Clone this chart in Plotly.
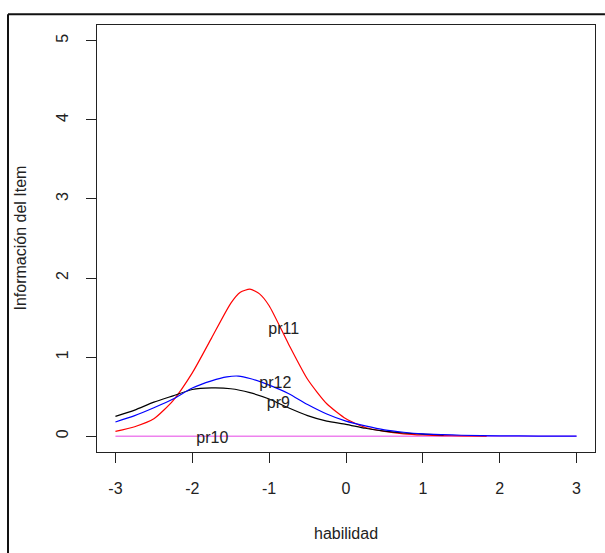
import plotly.graph_objects as go

# pr9 (black)
x_pr9 = [-3, -2.75, -2.5, -2.25, -2.0, -1.75, -1.5, -1.25, -1.0, -0.75, -0.5, -0.25, 0, 0.25, 0.5, 0.75, 1.0, 1.27]
y_pr9 = [0.25, 0.33, 0.43, 0.51, 0.59, 0.61, 0.60, 0.55, 0.47, 0.36, 0.26, 0.19, 0.15, 0.10, 0.065, 0.04, 0.025, 0.015]

# pr10 (violet)
x_pr10 = [-3, 3]
y_pr10 = [0, 0]

# pr11 (red)
x_pr11 = [-3, -2.75, -2.5, -2.25, -2.0, -1.75, -1.5, -1.375, -1.25, -1.125, -1.0, -0.75, -0.5, -0.25, 0, 0.25, 0.5, 0.75, 1.0, 1.25, 1.5, 1.83]
y_pr11 = [0.06, 0.12, 0.22, 0.45, 0.80, 1.24, 1.68, 1.82, 1.86, 1.80, 1.65, 1.17, 0.72, 0.41, 0.22, 0.11, 0.06, 0.03, 0.015, 0.008, 0.004, 0.002]

# pr12 (blue)
x_pr12 = [-3, -2.75, -2.5, -2.25, -2.0, -1.75, -1.55, -1.4, -1.25, -1.0, -0.75, -0.5, -0.25, 0, 0.25, 0.5, 0.75, 1.0, 1.25, 1.5, 2.0, 2.5, 3.0]
y_pr12 = [0.18, 0.26, 0.36, 0.47, 0.61, 0.70, 0.75, 0.76, 0.73, 0.645, 0.54, 0.40, 0.28, 0.19, 0.13, 0.08, 0.05, 0.03, 0.02, 0.012, 0.005, 0.002, 0.001]

# label positions
label_text = ["pr11", "pr12", "pr9", "pr10"]
label_x = [-0.81, -0.92, -0.88, -1.74]
label_y = [1.34, 0.66, 0.41, -0.04]

x_ticks = [-3, -2, -1, 0, 1, 2, 3]
y_ticks = [0, 1, 2, 3, 4, 5]

FONT = "Liberation Sans, Arial, sans-serif"

fig = go.Figure()
fig.add_trace(go.Scatter(x=x_pr10, y=y_pr10, mode="lines", line=dict(color="#EE82EE", width=1.5)))
fig.add_trace(go.Scatter(x=x_pr11, y=y_pr11, mode="lines", line=dict(color="#FF0000", width=1.2, shape="spline", smoothing=0.6)))
fig.add_trace(go.Scatter(x=x_pr9, y=y_pr9, mode="lines", line=dict(color="#000000", width=1.2, shape="spline", smoothing=0.6)))
fig.add_trace(go.Scatter(x=x_pr12, y=y_pr12, mode="lines", line=dict(color="#0000FF", width=1.2, shape="spline", smoothing=0.6)))
fig.add_trace(go.Scatter(x=label_x, y=label_y, mode="text", text=label_text,
                         textfont=dict(family=FONT, size=16, color="#222222"),
                         textposition="middle center"))

fig.update_layout(
    width=605, height=553,
    margin=dict(l=97, r=10, t=25, b=101),
    paper_bgcolor="white", plot_bgcolor="white",
    showlegend=False,
    font=dict(family=FONT, size=16, color="#222222"),
    xaxis=dict(range=[-3.24, 3.24], tickvals=x_ticks, ticktext=[str(v) for v in x_ticks],
               ticks="outside", ticklen=10, tickcolor="#222", showgrid=False, zeroline=False,
               showline=True, linecolor="#222", linewidth=1, mirror=True,
               ticklabelstandoff=12, tickfont=dict(size=16)),
    yaxis=dict(range=[-0.2, 5.2], tickvals=y_ticks, ticktext=[str(v) for v in y_ticks],
               ticks="outside", ticklen=10, tickcolor="#222", showgrid=False, zeroline=False,
               showline=True, linecolor="#222", linewidth=1, mirror=True, tickangle=-90,
               ticklabelstandoff=12, tickfont=dict(size=16)),
    annotations=[
        dict(text="habilidad", xref="paper", yref="paper", x=0.5, y=-0.19,
             xanchor="center", yanchor="middle", showarrow=False, font=dict(size=16)),
        dict(text="Información del Item", xref="paper", yref="paper", x=-0.1546, y=0.5,
             xanchor="center", yanchor="middle", textangle=-90, showarrow=False, font=dict(size=16)),
    ],
    shapes=[
        dict(type="line", xref="paper", yref="paper", x0=-0.1787, x1=1.02, y0=1.025, y1=1.025,
             line=dict(color="#111", width=2), layer="above"),
        dict(type="line", xref="paper", yref="paper", x0=-0.1787, x1=-0.1787, y0=1.025, y1=-0.3,
             line=dict(color="#111", width=2), layer="above"),
    ],
)

fig.write_html("out.html", config={"displayModeBar": False},
               post_script="document.body.style.margin='0px';")
